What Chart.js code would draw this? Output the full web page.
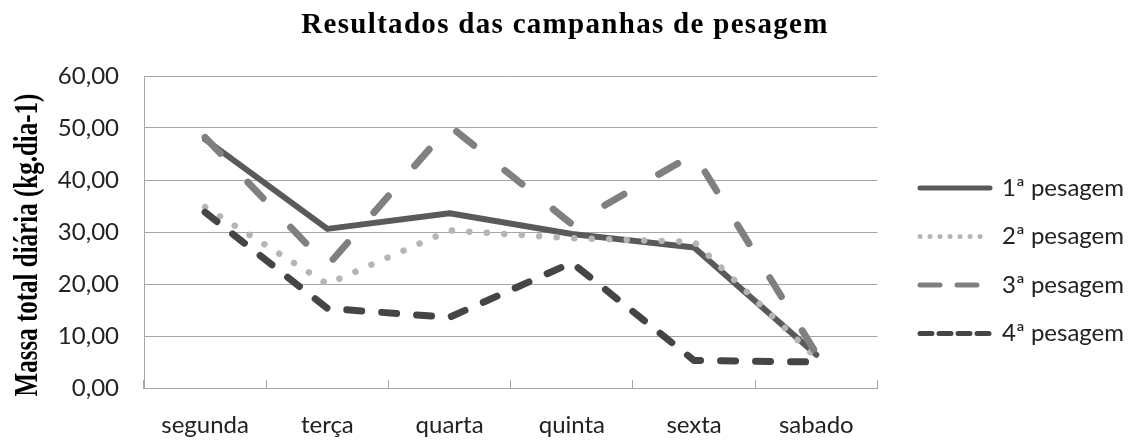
<!DOCTYPE html>
<html>
<head>
<meta charset="utf-8">
<script src="https://cdn.jsdelivr.net/npm/chart.js@4.4.0/dist/chart.umd.min.js"></script>
<style>
  html, body { margin: 0; padding: 0; background: #fff; }
</style>
</head>
<body>
<canvas id="chart" width="1140" height="448"></canvas>
<script>
const days = ["segunda", "terça", "quarta", "quinta", "sexta", "sabado"];
const seriesNames = ["1ª pesagem", "2ª pesagem", "3ª pesagem", "4ª pesagem"];
const pesagem1 = [47.8, 30.6, 33.6, 29.6, 27.0, 6.4];
const pesagem2 = [34.8, 20.0, 30.3, 28.8, 28.1, 5.8];
const pesagem3 = [48.2, 23.5, 50.4, 31.5, 45.0, 6.6];
const pesagem4 = [33.8, 15.3, 13.6, 24.1, 5.3, 5.0];

const chartTitle = "Resultados das campanhas de pesagem";
const yTitle = "Massa total diária (kg.dia-1)";

const gridColor = "#a6a6a6";
const tickFont = { family: "Lato", size: 24 };

// legend dash patterns are shorter than the plotted ones
const legendDash = [[], [0.01, 10], [20, 17], [12, 7]];

const titles = {
  id: "titles",
  afterLayout(chart) {
    const lg = chart.legend;
    lg.left = 895.5;
    lg.right = lg.left + lg.width;
    lg.top = 151.5;
    lg.bottom = lg.top + lg.height;
  },
  afterDraw(chart) {
    const ctx = chart.ctx;
    ctx.save();
    ctx.fillStyle = "#000";
    ctx.font = "bold 29px 'Liberation Serif'";
    ctx.letterSpacing = "1.3px";
    ctx.textAlign = "center";
    ctx.textBaseline = "alphabetic";
    ctx.fillText(chartTitle, 565, 33);
    ctx.restore();

    ctx.save();
    ctx.fillStyle = "#000";
    ctx.font = "bold 25px 'Liberation Serif'";
    ctx.translate(37, 245);
    ctx.rotate(-Math.PI / 2);
    ctx.scale(1, 1.35);
    ctx.textAlign = "center";
    ctx.textBaseline = "alphabetic";
    ctx.fillText(yTitle, 0, 0);
    ctx.restore();
  }
};

new Chart(document.getElementById("chart"), {
  type: "line",
  data: {
    labels: days,
    datasets: [
      { label: seriesNames[0], data: pesagem1, borderColor: "#5a5a5a", borderWidth: 6, order: 4 },
      { label: seriesNames[1], data: pesagem2, borderColor: "#b5b5b5", borderWidth: 6.5, borderDash: [0.01, 17.5], order: 3 },
      { label: seriesNames[2], data: pesagem3, borderColor: "#808080", borderWidth: 7, borderDash: [22, 40], order: 2 },
      { label: seriesNames[3], data: pesagem4, borderColor: "#454545", borderWidth: 7, borderDash: [15, 20], order: 1 }
    ]
  },
  options: {
    responsive: false,
    animation: false,
    devicePixelRatio: 1,
    layout: { padding: { top: 76, right: 24, bottom: 0, left: 0 } },
    elements: {
      point: { radius: 0 },
      line: { tension: 0, borderCapStyle: "round", borderJoinStyle: "round", fill: false }
    },
    scales: {
      x: {
        offset: true,
        grid: { drawOnChartArea: false, tickLength: -8, color: gridColor, offset: true },
        border: { color: gridColor },
        ticks: { font: tickFont, color: "#222", padding: 31, maxRotation: 0 },
        afterFit(scale) { scale.height = 60; }
      },
      y: {
        min: 0,
        max: 60,
        grid: { color: gridColor, drawTicks: false },
        border: { color: gridColor },
        ticks: {
          stepSize: 10,
          font: tickFont,
          color: "#222",
          padding: 25,
          callback: v => v.toFixed(2).replace(".", ",")
        },
        afterFit(scale) { scale.width = 144; }
      }
    },
    plugins: {
      title: { display: false },
      tooltip: { enabled: false },
      legend: {
        position: "right",
        align: "start",
        labels: {
          font: tickFont,
          color: "#222",
          usePointStyle: true,
          pointStyle: "line",
          pointStyleWidth: 70,
          padding: 24.5,
          sort: (a, b) => a.datasetIndex - b.datasetIndex,
          generateLabels(chart) {
            const items = Chart.defaults.plugins.legend.labels.generateLabels(chart);
            items.forEach(it => {
              it.lineDash = legendDash[it.datasetIndex];
              it.lineWidth = 5;
              it.lineCap = "round";
              it.pointStyle = "line";
            });
            return items;
          }
        }
      }
    }
  },
  plugins: [titles]
});
</script>
</body>
</html>
